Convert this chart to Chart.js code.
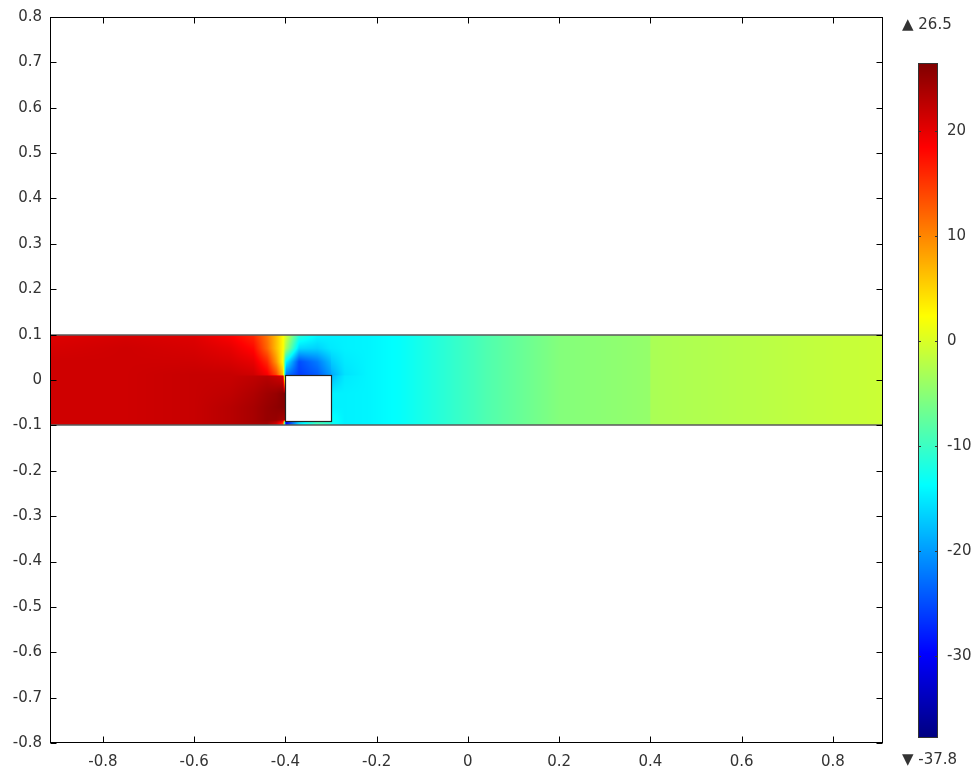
<!DOCTYPE html>
<html>
<head>
<meta charset="utf-8">
<script src="https://cdn.jsdelivr.net/npm/chart.js@4/dist/chart.umd.min.js"></script>
<style>
  html, body { margin: 0; padding: 0; background: #ffffff; }
  #wrap { position: relative; width: 979px; height: 773px; }
  #plot { position: absolute; left: 0; top: 0; }
  #cbar { position: absolute; left: 890px; top: 0; }
</style>
</head>
<body>
<div id="wrap">
  <canvas id="plot" width="979" height="773"></canvas>
  <canvas id="cbar" width="89" height="773"></canvas>
</div>
<script>
// ---- Geometry (data units) ----
const axisX = [-0.916, 0.910];
const axisY = [-0.8, 0.8];
const channelX = [-0.92, 0.92];
const channelY = [-0.1, 0.1];
const obstacleX = [-0.4, -0.3];
const obstacleY = [-0.09, 0.01];

// ---- Colour range of the surface ----
const fieldMin = -37.8;
const fieldMax = 26.5;
const colorbarStep = 10;

// ---- Sampled surface values: gridX columns, gridY rows (top to bottom) ----
const gridX = [-0.92, -0.75, -0.6, -0.52, -0.47, -0.44, -0.42, -0.405, -0.399, -0.37, -0.33, -0.301,
               -0.299, -0.27, -0.22, -0.15, -0.05, 0.05, 0.2, 0.399, 0.401, 0.6, 0.8, 0.92];
const gridY = [0.1, 0.07, 0.04, 0.012, 0.008, -0.03, -0.06, -0.088, -0.092, -0.1];

const row0 = [20.5, 21, 20.5, 18.5, 16, 11, 6.5, 2.5, 0, -11, -14, -14.5, -14.5, -14.5, -14.3, -13.5, -11, -8.5, -5.4, -4.3, -3, -2.2, -1.3, -0.9];
const row1 = [21, 21.5, 21, 20, 18, 12, 6.5, 2.5, -3, -16, -16.5, -15, -15, -14.5, -14.3, -13.5, -11, -8.5, -5.4, -4.3, -3, -2.2, -1.3, -0.9];
const row2 = [21.5, 21.5, 21.5, 21, 20, 16, 9, 2, -14, -25, -22, -18, -17, -15, -14.3, -13.5, -11, -8.5, -5.4, -4.3, -3, -2.2, -1.3, -0.9];
const row3 = [21.5, 21.5, 22, 22, 21.5, 19, 14, 6, -22, -26, -24, -20, -19, -15.5, -14.3, -13.5, -11, -8.5, -5.4, -4.3, -3, -2.2, -1.3, -0.9];
const row4 = [21.5, 21.5, 22, 22, 22.5, 23, 22, 21, -22, -26, -24, -20, -18, -15, -14.3, -13.5, -11, -8.5, -5.4, -4.3, -3, -2.2, -1.3, -0.9];
const row5 = [21.5, 21.5, 22, 22.5, 23.5, 24.5, 25, 26, 26, 0, -14.5, -14.5, -14.5, -14.5, -14.3, -13.5, -11, -8.5, -5.4, -4.3, -3, -2.2, -1.3, -0.9];
const row6 = [21.5, 21.5, 22, 23, 24, 25, 25.5, 26, 26, 0, -14.5, -14.5, -14.5, -14.5, -14.3, -13.5, -11, -8.5, -5.4, -4.3, -3, -2.2, -1.3, -0.9];
const row7 = [21.5, 21.5, 22, 23, 24, 25, 25, 24, 24, -16, -10, -13, -13, -14.5, -14.3, -13.5, -11, -8.5, -5.4, -4.3, -3, -2.2, -1.3, -0.9];
const row8 = [21.5, 21.5, 22, 23, 24, 24.5, 23, 18, -30, -16, -10, -11, -13, -14.5, -14.3, -13.5, -11, -8.5, -5.4, -4.3, -3, -2.2, -1.3, -0.9];
const row9 = [21, 21.5, 22, 23, 23.5, 24, 20, 12, -30, -15, -9, -11, -13, -14.5, -14.3, -13.5, -11, -8.5, -5.4, -4.3, -3, -2.2, -1.3, -0.9];
const fieldRows = [row0, row1, row2, row3, row4, row5, row6, row7, row8, row9];

// ---- Styling ----
const FONT = { family: "'DejaVu Sans', Verdana, sans-serif", size: 15 };
const TEXT = '#333333';

function clamp01(v) { return v < 0 ? 0 : (v > 1 ? 1 : v); }
// Rainbow (jet) colour table
function jet(v) {
  const t = clamp01((v - fieldMin) / (fieldMax - fieldMin));
  return [
    Math.round(255 * clamp01(1.5 - Math.abs(4 * t - 3))),
    Math.round(255 * clamp01(1.5 - Math.abs(4 * t - 2))),
    Math.round(255 * clamp01(1.5 - Math.abs(4 * t - 1)))
  ];
}

function bracket(arr, v, descending) {
  const n = arr.length;
  for (let k = 0; k < n - 1; k++) {
    const a = arr[k], b = arr[k + 1];
    if (descending ? (v <= a && v >= b) : (v >= a && v <= b)) {
      return [k, (v - a) / (b - a)];
    }
  }
  if (descending) return v > arr[0] ? [0, 0] : [n - 2, 1];
  return v < arr[0] ? [0, 0] : [n - 2, 1];
}

function sampleField(xv, yv) {
  const [i, fx] = bracket(gridX, xv, false);
  const [j, fy] = bracket(gridY, yv, true);
  const a = fieldRows[j][i], b = fieldRows[j][i + 1];
  const c = fieldRows[j + 1][i], d = fieldRows[j + 1][i + 1];
  const top = a + (b - a) * fx;
  const bot = c + (d - c) * fx;
  return top + (bot - top) * fy;
}

// Surface plot of the channel, the obstacle and its outlines
const surfacePlugin = {
  id: 'surface',
  beforeDatasetsDraw(chart) {
    const { ctx, chartArea: ca, scales: { x, y } } = chart;
    const px0 = Math.max(Math.round(x.getPixelForValue(channelX[0])), Math.round(ca.left));
    const px1 = Math.min(Math.round(x.getPixelForValue(channelX[1])), Math.round(ca.right));
    const py0 = Math.round(y.getPixelForValue(channelY[1]));
    const py1 = Math.round(y.getPixelForValue(channelY[0]));
    const w = px1 - px0, h = py1 - py0;
    const off = document.createElement('canvas');
    off.width = w; off.height = h;
    const octx = off.getContext('2d');
    const img = octx.createImageData(w, h);
    for (let jj = 0; jj < h; jj++) {
      const yv = y.getValueForPixel(py0 + jj + 0.5);
      for (let ii = 0; ii < w; ii++) {
        const xv = x.getValueForPixel(px0 + ii + 0.5);
        const [r, g, b] = jet(sampleField(xv, yv));
        const p = (jj * w + ii) * 4;
        img.data[p] = r; img.data[p + 1] = g; img.data[p + 2] = b; img.data[p + 3] = 255;
      }
    }
    octx.putImageData(img, 0, 0);
    ctx.save();
    ctx.drawImage(off, px0, py0);

    // channel walls
    ctx.strokeStyle = '#5a5a5a';
    ctx.lineWidth = 1.5;
    ctx.beginPath();
    ctx.moveTo(px0, py0); ctx.lineTo(px1, py0);
    ctx.moveTo(px0, py1); ctx.lineTo(px1, py1);
    ctx.stroke();

    // obstacle
    const ox0 = Math.round(x.getPixelForValue(obstacleX[0]));
    const ox1 = Math.round(x.getPixelForValue(obstacleX[1]));
    const oy0 = Math.round(y.getPixelForValue(obstacleY[1]));
    const oy1 = Math.round(y.getPixelForValue(obstacleY[0]));
    ctx.fillStyle = '#ffffff';
    ctx.fillRect(ox0, oy0, ox1 - ox0, oy1 - oy0);
    ctx.strokeStyle = '#222222';
    ctx.lineWidth = 1.2;
    ctx.strokeRect(ox0 + 0.5, oy0 + 0.5, ox1 - ox0, oy1 - oy0);
    ctx.restore();
  }
};

// Box frame with inward tick marks on all four sides
const framePlugin = {
  id: 'frame',
  afterDraw(chart) {
    const { ctx, chartArea: ca, scales: { x, y } } = chart;
    const L = Math.round(ca.left) + 0.5, R = Math.round(ca.right) - 0.5;
    const T = Math.round(ca.top) + 0.5, B = Math.round(ca.bottom) - 0.5;
    const tl = 6;
    ctx.save();
    ctx.strokeStyle = '#000000';
    ctx.lineWidth = 1;
    ctx.strokeRect(L, T, R - L, B - T);
    ctx.beginPath();
    x.ticks.forEach((t, i) => {
      const p = Math.round(x.getPixelForTick(i)) + 0.5;
      ctx.moveTo(p, B); ctx.lineTo(p, B - tl);
      ctx.moveTo(p, T); ctx.lineTo(p, T + tl);
    });
    y.ticks.forEach((t, i) => {
      const p = Math.round(y.getPixelForTick(i)) + 0.5;
      ctx.moveTo(L, p); ctx.lineTo(L + tl, p);
      ctx.moveTo(R, p); ctx.lineTo(R - tl, p);
    });
    ctx.stroke();
    ctx.restore();
  }
};

new Chart(document.getElementById('plot'), {
  type: 'scatter',
  data: { datasets: [] },
  options: {
    responsive: false,
    animation: false,
    devicePixelRatio: 1,
    layout: { padding: { top: 16, right: 96, left: 0, bottom: 0 } },
    plugins: { legend: { display: false }, tooltip: { enabled: false } },
    scales: {
      x: {
        type: 'linear', min: axisX[0], max: axisX[1],
        grid: { display: false, drawTicks: false },
        border: { display: false },
        ticks: { stepSize: 0.2, includeBounds: false, padding: 10, font: FONT, color: TEXT, maxRotation: 0 },
        afterFit(s) { s.height = 30; }
      },
      y: {
        type: 'linear', min: axisY[0], max: axisY[1],
        grid: { display: false, drawTicks: false },
        border: { display: false },
        ticks: { stepSize: 0.1, includeBounds: false, padding: 8, font: FONT, color: TEXT },
        afterFit(s) { s.width = 50; }
      }
    }
  },
  plugins: [surfacePlugin, framePlugin]
});

// Colour legend bar with its extreme values
const colorbarPlugin = {
  id: 'colorbar',
  beforeDatasetsDraw(chart) {
    const { ctx, chartArea: ca, scales: { y } } = chart;
    const L = Math.round(ca.left), R = Math.round(ca.right);
    const T = Math.round(ca.top), B = Math.round(ca.bottom);
    ctx.save();
    for (let py = T; py < B; py++) {
      const [r, g, b] = jet(y.getValueForPixel(py + 0.5));
      ctx.fillStyle = `rgb(${r},${g},${b})`;
      ctx.fillRect(L, py, R - L, 1);
    }
    ctx.strokeStyle = '#333333';
    ctx.lineWidth = 1;
    ctx.strokeRect(L + 0.5, T + 0.5, R - L - 1, B - T - 1);
    ctx.beginPath();
    y.ticks.forEach((t, i) => {
      const p = Math.round(y.getPixelForTick(i)) + 0.5;
      ctx.moveTo(L, p); ctx.lineTo(L + 3, p);
      ctx.moveTo(R, p); ctx.lineTo(R - 3, p);
    });
    ctx.stroke();
    ctx.fillStyle = TEXT;
    ctx.font = `${FONT.size}px ${FONT.family}`;
    ctx.textAlign = 'left';
    ctx.textBaseline = 'middle';
    ctx.fillText('\u25B2 ' + fieldMax.toFixed(1), 12, 25);
    ctx.fillText('\u25BC ' + fieldMin.toFixed(1), 12, 760);
    ctx.restore();
  }
};

new Chart(document.getElementById('cbar'), {
  type: 'scatter',
  data: { datasets: [] },
  options: {
    responsive: false,
    animation: false,
    devicePixelRatio: 1,
    layout: { padding: { top: 63, bottom: 35, left: 28, right: 0 } },
    plugins: { legend: { display: false }, tooltip: { enabled: false } },
    scales: {
      x: { type: 'linear', display: false },
      y: {
        type: 'linear', position: 'right', min: fieldMin, max: fieldMax,
        grid: { display: false, drawTicks: false },
        border: { display: false },
        ticks: { stepSize: colorbarStep, includeBounds: false, padding: 9, font: FONT, color: TEXT },
        afterFit(s) { s.width = 41; }
      }
    }
  },
  plugins: [colorbarPlugin]
});
</script>
</body>
</html>
